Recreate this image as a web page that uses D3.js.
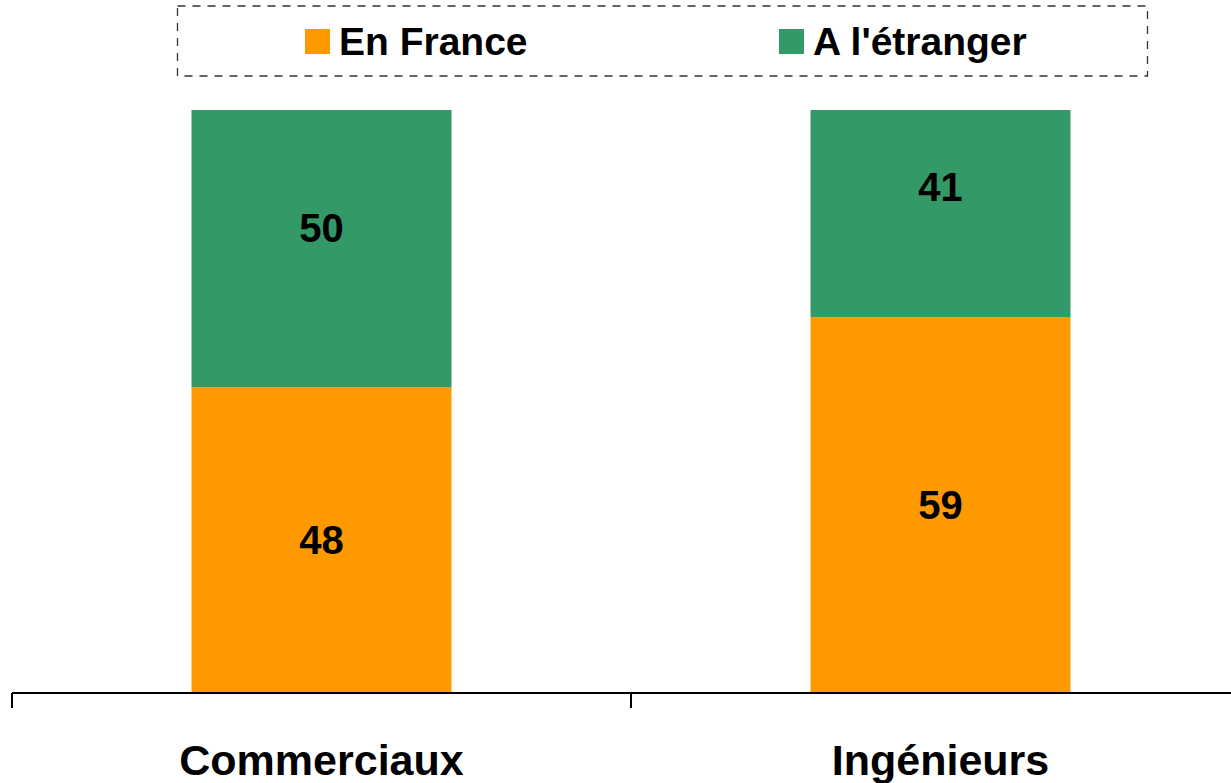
<!DOCTYPE html>
<html>
<head>
<meta charset="utf-8">
<script src="https://cdn.jsdelivr.net/npm/d3@7"></script>
<style>
  body { margin: 0; background: #fff; }
  svg { display: block; font-family: Arial, 'Liberation Sans', sans-serif; font-weight: bold; }
</style>
</head>
<body>
<div id="chart"></div>
<script>
// chart data
const categories = ['Commerciaux', 'Ingénieurs'];
const seriesNames = ['En France', "A l'étranger"];
const enFrance = [48, 59];
const aLEtranger = [50, 41];
const colors = ['#FF9900', '#339966'];
const yMax = 91.5;

const width = 1231;
const height = 783;
const plotTop = 110;
const plotBottom = 693;

const rows = categories.map((c, i) => ({
  category: c,
  [seriesNames[0]]: enFrance[i],
  [seriesNames[1]]: aLEtranger[i],
}));

const stacked = d3.stack().keys(seriesNames)(rows);

const x = d3.scaleBand()
  .domain(categories)
  .range([12, 1250])
  .paddingInner(0.58)
  .paddingOuter(0.29);

const y = d3.scaleLinear().domain([0, yMax]).range([plotBottom, plotTop]);
const color = d3.scaleOrdinal().domain(seriesNames).range(colors);

const svg = d3.select('#chart')
  .append('svg')
  .attr('width', width)
  .attr('height', height);

svg.append('clipPath')
  .attr('id', 'plot-clip')
  .append('rect')
  .attr('x', 0)
  .attr('y', plotTop)
  .attr('width', width)
  .attr('height', plotBottom - plotTop);

// bars
const layers = svg.append('g')
  .attr('clip-path', 'url(#plot-clip)')
  .selectAll('g')
  .data(stacked)
  .join('g')
  .attr('fill', (d) => color(d.key));

layers.selectAll('rect')
  .data((d) => d)
  .join('rect')
  .attr('x', (d) => x(d.data.category))
  .attr('y', (d) => y(d[1]))
  .attr('width', x.bandwidth())
  .attr('height', (d) => y(d[0]) - y(d[1]));

// value labels
const labelSize = 40;
svg.append('g')
  .attr('text-anchor', 'middle')
  .attr('font-size', labelSize)
  .attr('fill', '#000')
  .selectAll('g')
  .data(stacked)
  .join('g')
  .selectAll('text')
  .data((d) => d)
  .join('text')
  .attr('x', (d) => x(d.data.category) + x.bandwidth() / 2)
  .attr('y', (d) => (y(d[0]) + y(d[1])) / 2 + labelSize * 0.36)
  .text((d) => d[1] - d[0]);

// category axis
const axis = svg.append('g').attr('stroke', '#000').attr('stroke-width', 2);
axis.append('line')
  .attr('x1', x.range()[0])
  .attr('x2', x.range()[1])
  .attr('y1', plotBottom)
  .attr('y2', plotBottom);

const tickPos = d3.range(categories.length + 1).map((i) => x.range()[0] + i * x.step());
axis.selectAll('line.tick')
  .data(tickPos)
  .join('line')
  .attr('class', 'tick')
  .attr('x1', (d) => d)
  .attr('x2', (d) => d)
  .attr('y1', plotBottom)
  .attr('y2', plotBottom + 15);

svg.append('g')
  .attr('text-anchor', 'middle')
  .attr('font-size', 43)
  .selectAll('text')
  .data(categories)
  .join('text')
  .attr('x', (d) => x(d) + x.bandwidth() / 2)
  .attr('y', 775)
  .text((d) => d);

// legend
const legend = svg.append('g');
legend.append('rect')
  .attr('x', 177.5)
  .attr('y', 6)
  .attr('width', 970)
  .attr('height', 70)
  .attr('fill', 'none')
  .attr('stroke', '#333')
  .attr('stroke-width', 1.3)
  .attr('stroke-dasharray', '8,7');

const legendX = [305, 779];
const item = legend.selectAll('g.item')
  .data(seriesNames)
  .join('g')
  .attr('class', 'item')
  .attr('transform', (d, i) => `translate(${legendX[i]},0)`);

item.append('rect')
  .attr('x', 0)
  .attr('y', 29)
  .attr('width', 25)
  .attr('height', 25)
  .attr('fill', (d) => color(d));

item.append('text')
  .attr('x', 34)
  .attr('y', 54.5)
  .attr('font-size', 39)
  .text((d) => d);
</script>
</body>
</html>
